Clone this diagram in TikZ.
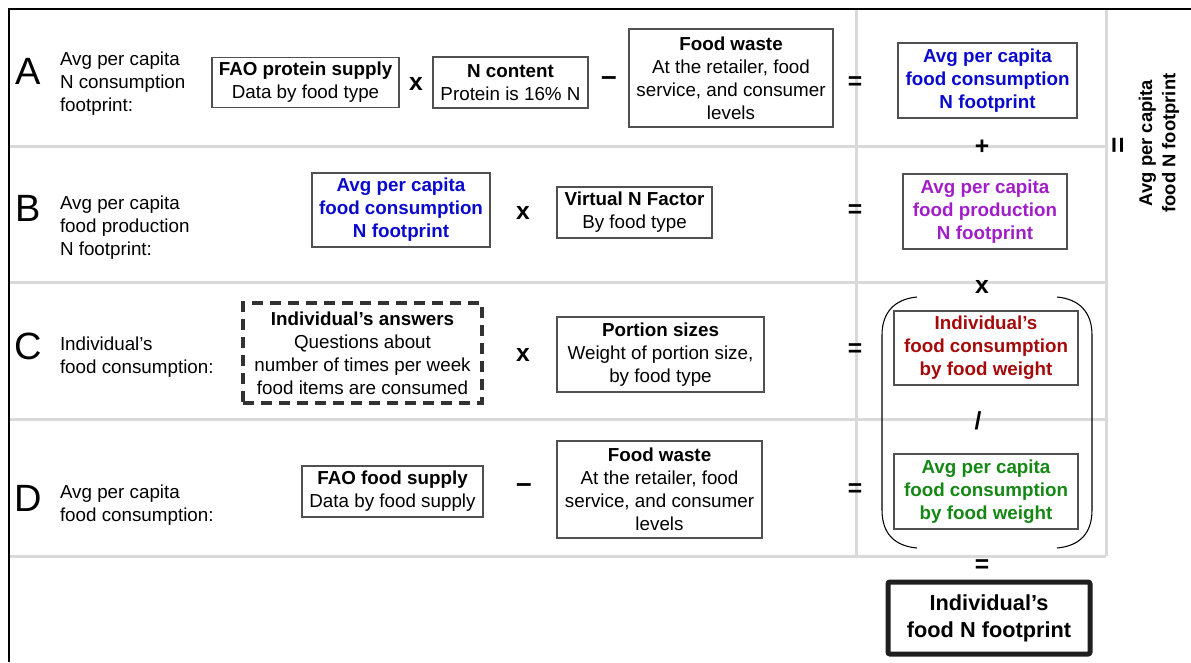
\documentclass[tikz,border=0pt]{standalone}
\usepackage{fontspec}
\setmainfont{Liberation Sans}
\definecolor{gridgray}{RGB}{217,217,217}
\definecolor{cblue}{RGB}{10,10,205}
\definecolor{cpurple}{RGB}{160,30,200}
\definecolor{cred}{RGB}{165,10,10}
\definecolor{cgreen}{RGB}{20,135,20}
\definecolor{boxline}{RGB}{80,80,80}
\definecolor{dashline}{RGB}{50,50,50}
\begin{document}
\begin{tikzpicture}[x=0.75pt,y=-0.75pt,
  every node/.style={inner sep=0pt, outer sep=0pt},
  txt/.style={font=\fontsize{14.1}{17.25}\selectfont, align=center},
  fbox/.style={txt, draw=boxline, line width=0.8pt},
  sz/.style 2 args={minimum width=#1*0.75pt, minimum height=#2*0.75pt},
  lbl/.style={font=\fontsize{14.1}{17.25}\selectfont, align=left, anchor=west},
  letter/.style={font=\fontsize{28.5}{30}\selectfont, anchor=base},
  op/.style={font=\fontsize{18.5}{20}\selectfont\bfseries},
  dashop/.style={font=\fontsize{21}{22}\selectfont\bfseries},
  gridline/.style={draw=gridgray, line width=2.25pt},
  frameline/.style={draw=black, line width=1.5pt},
  bracketline/.style={draw=black, line width=0.8pt}
]
\useasboundingbox (0,0) rectangle (1191,662);
% grid
\draw[gridline] (10,146) -- (1106,146);
\draw[gridline] (10,282) -- (1106,282);
\draw[gridline] (10,419) -- (1106,419);
\draw[gridline] (10,556) -- (1106,556);
\draw[gridline] (856,10) -- (856,556);
\draw[gridline] (1106,10) -- (1106,556);
% frame
\draw[frameline] (9,662) -- (9,9) -- (1191,9);

% letters
\node[letter] (LA) at (28,84) {A};
\node[letter] (LB) at (28,221) {B};
\node[letter] (LC) at (28,359) {C};
\node[letter] (LD) at (28,511) {D};

% labels
\node[lbl] (labA) at (60,84) {Avg per capita\\N consumption\\footprint:};
\node[lbl] (labB) at (60,228) {Avg per capita\\food production\\N footprint:};
\node[lbl] (labC) at (60,357) {Individual’s\\food consumption:};
\node[lbl] (labD) at (60,505) {Avg per capita\\food consumption:};

% row A
\node[fbox, sz={187}{50}] (faoP) at (305.5,82.5) {\textbf{FAO protein supply}\\Data by food type};
\node[op] (xA) at (416,84) {x};
\node[fbox, sz={155}{51}] (ncont) at (510.5,82.5) {\textbf{N content}\\Protein is 16\% N};
\node[dashop] (mA) at (609,81) {–};
\node[fbox, sz={204}{98}] (fwA) at (731,78) {\textbf{Food waste}\\At the retailer, food\\service, and consumer\\levels};
\node[op] (eA) at (855,83) {=};
\node[fbox, sz={179}{75}, text=cblue, font=\fontsize{14.1}{17.25}\selectfont\bfseries] (blueA) at (987.5,80.5) {Avg per capita\\food consumption\\N footprint};

% row B
\node[fbox, sz={178}{74}, text=cblue, font=\fontsize{14.1}{17.25}\selectfont\bfseries] (blueB) at (401,210) {Avg per capita\\food consumption\\N footprint};
\node[op] (xB) at (523,213) {x};
\node[fbox, sz={155}{51}] (vnf) at (634.5,212.5) {\textbf{Virtual N Factor}\\By food type};
\node[op] (eB) at (855,211) {=};
\node[fbox, sz={164}{75}, text=cpurple, font=\fontsize{14.1}{17.25}\selectfont\bfseries] (purp) at (985,211.5) {Avg per capita\\food production\\N footprint};

% row C
\node[txt, sz={239}{100}, draw=dashline, line width=2.6pt, dash pattern=on 8pt off 5.5pt] (ans) at (362.5,353) {\textbf{Individual’s answers}\\Questions about\\number of times per week\\food items are consumed};
\node[op] (xC) at (523,355) {x};
\node[fbox, sz={207}{75}] (port) at (660.5,354.5) {\textbf{Portion sizes}\\Weight of portion size,\\by food type};
\node[op] (eC) at (855,350) {=};
\node[fbox, sz={184}{74}, text=cred, font=\fontsize{14.1}{17.25}\selectfont\bfseries] (redb) at (986,348) {Individual’s\\food consumption\\by food weight};

% row D
\node[fbox, sz={181}{51}] (faoF) at (392.5,491.5) {\textbf{FAO food supply}\\Data by food supply};
\node[dashop] (mD) at (524,488) {–};
\node[fbox, sz={205}{97}] (fwD) at (659.5,489.5) {\textbf{Food waste}\\At the retailer, food\\service, and consumer\\levels};
\node[op] (eD) at (855,490) {=};
\node[fbox, sz={184}{75}, text=cgreen, font=\fontsize{14.1}{17.25}\selectfont\bfseries] (greenb) at (986,491.5) {Avg per capita\\food consumption\\by food weight};

% right column operators
\node[op] (plus) at (982,147) {+};
\node[op] (times) at (982,287) {x};
\node[op] (div) at (978,421) {/};
\node[op] (eq) at (982,566) {=};
\node[op, rotate=90, font=\fontsize{21}{22}\selectfont\bfseries] (eqR) at (1120,145) {=};
\node[txt, rotate=90, font=\fontsize{13.8}{17.3}\selectfont\bfseries] (total) at (1159,143) {Avg per capita\\food N footprint};

% bracket
\draw[bracketline] (917,297) .. controls (895,299) and (882,312) .. (882,335) -- (882,510) .. controls (882,534) and (895,546) .. (917,548);
\draw[bracketline] (1057,297) .. controls (1079,299) and (1092,312) .. (1092,335) -- (1092,510) .. controls (1092,534) and (1079,546) .. (1057,548);

% final
\node[txt, sz={202}{72}, draw=black!88, line width=3.75pt, rounded corners=1.5pt, font=\fontsize{16.3}{20.3}\selectfont\bfseries] (final) at (989,618) {Individual’s\\food N footprint};
\end{tikzpicture}
\end{document}
